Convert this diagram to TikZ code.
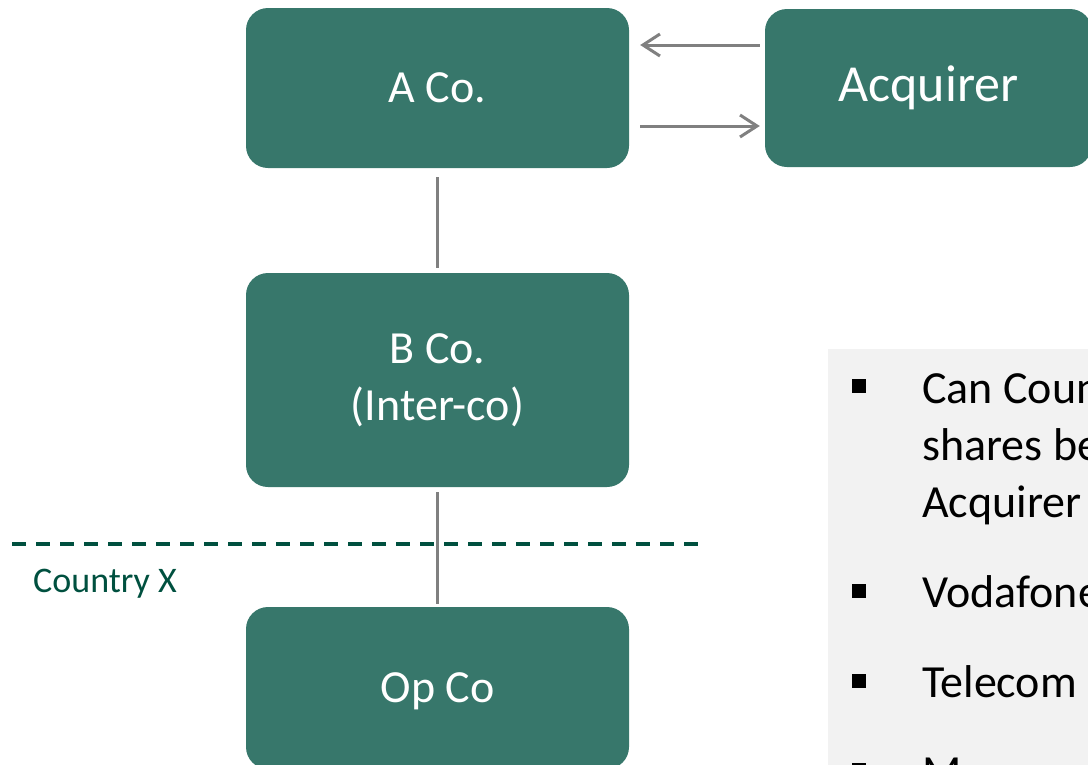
\documentclass[tikz,border=0pt]{standalone}
\usepackage{fontspec}
\setmainfont{Carlito}
\usetikzlibrary{arrows.meta, positioning}
\definecolor{coteal}{HTML}{37776B}
\definecolor{linegray}{HTML}{808080}
\definecolor{ctrgreen}{HTML}{00503F}
\definecolor{notebg}{HTML}{F2F2F2}
\tikzset{
	cbox/.style={fill=coteal, rounded corners=22pt, minimum width=383pt,
		align=center, text=white, inner sep=0pt,
		font=\fontsize{46}{57}\selectfont},
	clink/.style={line width=3pt, draw=linegray},
	carr/.style={-{Straight Barb[length=17pt,width=22pt]}, line width=3pt, draw=linegray},
	ctrline/.style={line width=3.5pt, draw=ctrgreen, dash pattern=on 14pt off 10pt},
	bline/.style={anchor=base west, inner sep=0pt, font=\fontsize{46}{57}\selectfont},
	bsq/.style={fill=black, minimum size=14pt, inner sep=0pt}
}

\begin{document}
\begin{tikzpicture}[x=1pt, y=-1pt]
	\clip (0,0) rectangle (1088,764);
	\useasboundingbox (0,0) rectangle (1088,764);
	% note panel
	\fill[notebg] (828,349) rectangle (1100,800);
	\node[cbox, minimum height=160pt] (aco) at (437.5,88) {A Co.};
	\node[cbox, minimum height=158pt, minimum width=327pt,
		font=\fontsize{52}{63}\selectfont] (acq) at (928.5,88) {Acquirer};
	\node[cbox, minimum height=214pt] (bco) at (437.5,380) {B Co.\\(Inter-co)};
	\node[cbox, minimum height=162pt, text depth=0pt] (opco) at (437.5,688) {Op Co};
	\draw[clink, shorten <=9pt, shorten >=5pt] (aco) -- (bco);
	\draw[clink, shorten <=5pt, shorten >=3pt] (bco) -- (opco);
	\draw[carr, shorten <=5pt, shorten >=11pt] ([yshift=43pt]acq.west) -- ([yshift=43pt]aco.east);
	\draw[carr, shorten <=11pt, shorten >=5pt] ([yshift=-38pt]aco.east) -- ([yshift=-38pt]acq.west);
	% country border
	\coordinate (xl) at (12,544);
	\coordinate (xr) at (700,544);
	\draw[ctrline] (xl) -- (xr);
	\node[anchor=base west, inner sep=0pt, text=ctrgreen,
		font=\fontsize{36}{44}\selectfont] (ctry) at (33,592) {Country X};
	% bullets
	\node[bsq] (sq1) at (859,386) {};
	\node[bsq] (sq2) at (859,591) {};
	\node[bsq] (sq3) at (859,681) {};
	\node[bsq] (sq4) at (859,770) {};
	\node[bline] (t1a) at (922,403) {Can Coun};
	\node[bline] (t1b) at (922,460) {shares be};
	\node[bline] (t1c) at (922,517) {Acquirer};
	\node[bline] (t2) at (922,607) {Vodafone};
	\node[bline] (t3) at (922,697) {Telecom};
	\node[bline] (t4) at (922,787) {M};
\end{tikzpicture}
\end{document}
